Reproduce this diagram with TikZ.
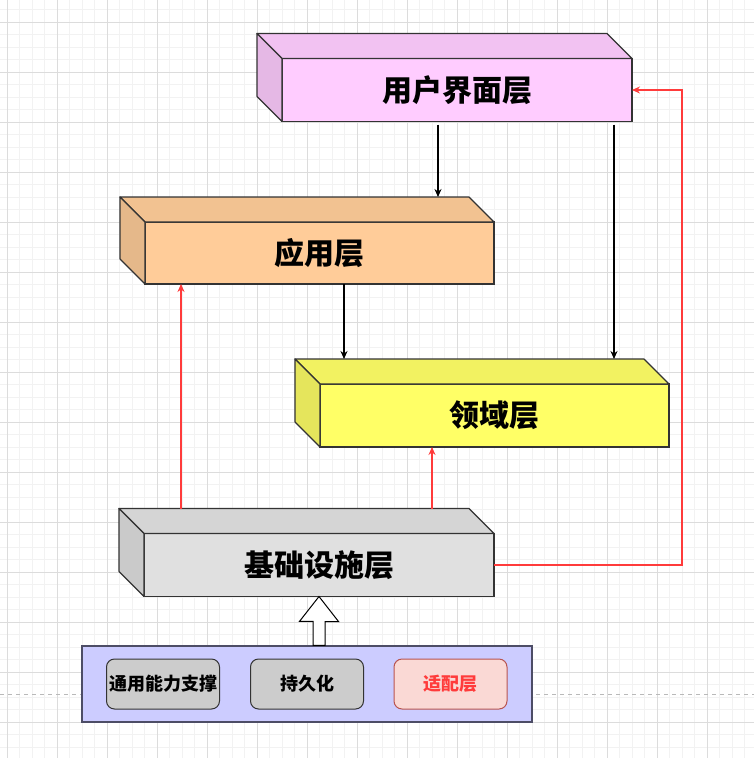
\documentclass[tikz,border=0pt]{standalone}
\usepackage{fontspec}
\newfontfamily\cjk{Noto Sans CJK SC}
\usetikzlibrary{calc,arrows.meta}
\definecolor{gridminor}{HTML}{F2F2F2}
\definecolor{gridmajor}{HTML}{DCDCDC}
\definecolor{edge}{HTML}{333333}
\definecolor{cpink}{HTML}{FFCCFF}
\definecolor{corange}{HTML}{FFCC99}
\definecolor{cyellow}{HTML}{FFFF66}
\definecolor{cgray}{HTML}{E0E0E0}
\definecolor{cblue}{HTML}{CCCCFF}
\definecolor{cblueedge}{HTML}{4D4D66}
\definecolor{cred}{HTML}{FF3B3B}
\definecolor{cpinkred}{HTML}{FAD9D5}
\definecolor{cpinkrededge}{HTML}{B85450}
\definecolor{cinner}{HTML}{CCCCCC}
\tikzset{
  front/.style={draw=edge, line width=1.2pt, inner sep=0pt, outer sep=0pt,
    font=\cjk\bfseries\fontsize{30}{32}\selectfont},
  blk/.style={draw=black, line width=1.1pt, -{Stealth[length=8pt,width=7pt]}},
  redarrow/.style={draw=cred, line width=1.1pt, -{Stealth[length=8pt,width=7pt]}},
  innerbox/.style={draw=edge, line width=1pt, rounded corners=8pt, fill=cinner,
    minimum width=113pt, minimum height=50pt, inner sep=0pt,
    font=\cjk\bfseries\fontsize{18}{20}\selectfont},
}
\newcommand\cubebox[6]{%
  \node[front, fill=#5, minimum width=#3, minimum height=#4] (#1) at (#2) {#6};
  \coordinate (#1back) at ($(#1.north west)+(-25,-25)$);
  \filldraw[fill=#5!95!black, draw=edge, line width=1.2pt, line join=round]
    (#1.north west) -- (#1back) -- ($(#1.north east)+(-25,-25)$) -- (#1.north east) -- cycle;
  \filldraw[fill=#5!90!black, draw=edge, line width=1.2pt, line join=round]
    (#1.north west) -- (#1back) -- ($(#1.south west)+(-25,-25)$) -- (#1.south west) -- cycle;
}
\begin{document}
\begin{tikzpicture}[x=1pt,y=-1pt]
\useasboundingbox (0,0) rectangle (754,758);
\fill[white] (0,0) rectangle (754,758);
% grid
\foreach \i in {0,...,60} {
  \draw[gridminor, line width=0.8pt] ({7.3+12.5*\i},0) -- ({7.3+12.5*\i},758);
  \draw[gridminor, line width=0.8pt] (0,{9.5+12.5*\i}) -- (754,{9.5+12.5*\i});
}
\foreach \i in {0,...,15} {
  \draw[gridmajor, line width=0.8pt] ({7.3+50*\i},0) -- ({7.3+50*\i},758);
  \draw[gridmajor, line width=0.8pt] (0,{22+50*\i}) -- (754,{22+50*\i});
}
% page break line
\draw[gray!55, line width=1pt, dash pattern=on 4pt off 4pt] (0,694) -- (754,694);

% cubes
\cubebox{ui}{457,90}{350pt}{63pt}{cpink}{用户界面层}
\cubebox{app}{319.5,253}{349pt}{62pt}{corange}{应用层}
\cubebox{dom}{494.5,415.5}{349pt}{63pt}{cyellow}{领域层}
\cubebox{infra}{319,565}{350pt}{63pt}{cgray}{基础设施层}

% bottom container
\node[draw=cblueedge, line width=1.3pt, fill=cblue, minimum width=450pt, minimum height=76pt, inner sep=0pt] (base) at (307,684) {};
\node[innerbox] (common) at (163,684) {通用能力支撑};
\node[innerbox] (persist) at (307,684) {持久化};
\node[innerbox, fill=cpinkred, draw=cpinkrededge, text=cred] (adapter) at (450.5,684) {适配层};

% hollow arrow
\filldraw[fill=white, draw=black, line width=1pt, line join=miter]
  (infra.south) -- ++(19.5,25) -- ++(-13.5,0) -- (base.north -| {$(infra.south)+(6,0)$}) -- (base.north -| {$(infra.south)+(-6,0)$}) -- ++(0,-24) -- ++(-13.5,0) -- cycle;

% connectors
\draw[blk] ($(ui.south west)+(156,3)$) -- ($(appback)+(318,0)$);
\draw[blk] ($(ui.south west)+(332,3)$) -- ($(domback)+(319,0)$);
\draw[blk] ($(app.south west)+(199,0)$) -- ($(domback)+(49,0)$);
\draw[redarrow] ($(infraback)+(62,0)$) -- ($(app.south west)+(36,0)$);
\draw[redarrow] ($(infraback)+(313,0)$) -- ($(dom.south west)+(112,0)$);
\draw[redarrow] (infra.east) -| ($(ui.east)+(50,0)$) -- (ui.east);
\end{tikzpicture}
\end{document}
